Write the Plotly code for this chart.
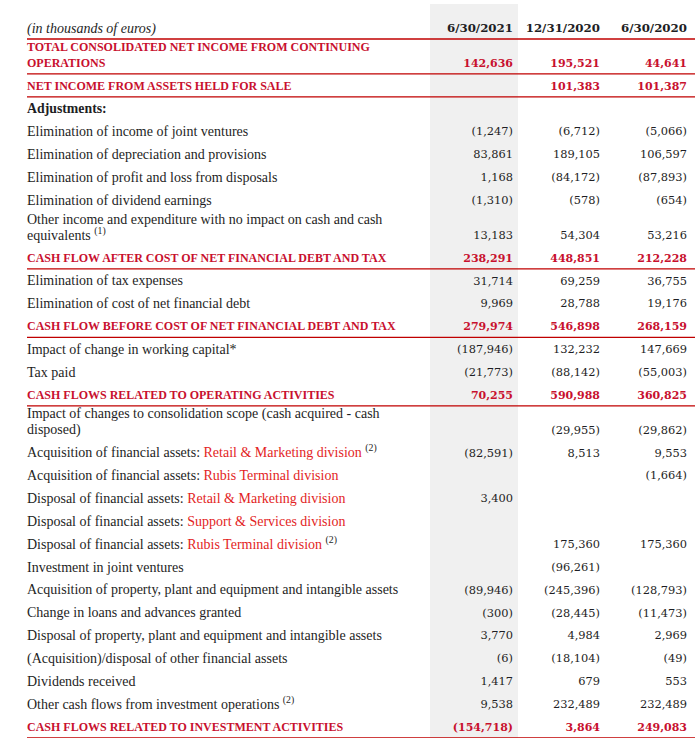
import plotly.graph_objects as go

RED = "#c8102e"
LIGHT_RED = "#e31e24"
INK = "#1e1e24"
LINE = "#c00000"


def div(name):
    return "<span style='color:%s'>%s</span>" % (LIGHT_RED, name)


unit_label = "(in thousands of euros)"
periods = ["6/30/2021", "12/31/2020", "6/30/2020"]

labels = [
    "TOTAL CONSOLIDATED NET INCOME FROM CONTINUING<br>OPERATIONS",
    "NET INCOME FROM ASSETS HELD FOR SALE",
    "Adjustments:",
    "Elimination of income of joint ventures",
    "Elimination of depreciation and provisions",
    "Elimination of profit and loss from disposals",
    "Elimination of dividend earnings",
    "Other income and expenditure with no impact on cash and cash<br>equivalents <sup>(1)</sup>",
    "CASH FLOW AFTER COST OF NET FINANCIAL DEBT AND TAX",
    "Elimination of tax expenses",
    "Elimination of cost of net financial debt",
    "CASH FLOW BEFORE COST OF NET FINANCIAL DEBT AND TAX",
    "Impact of change in working capital*",
    "Tax paid",
    "CASH FLOWS RELATED TO OPERATING ACTIVITIES",
    "Impact of changes to consolidation scope (cash acquired - cash<br>disposed)",
    "Acquisition of financial assets: " + div("Retail & Marketing division") + " <sup>(2)</sup>",
    "Acquisition of financial assets: " + div("Rubis Terminal division"),
    "Disposal of financial assets: " + div("Retail & Marketing division"),
    "Disposal of financial assets: " + div("Support & Services division"),
    "Disposal of financial assets: " + div("Rubis Terminal division") + " <sup>(2)</sup>",
    "Investment in joint ventures",
    "Acquisition of property, plant and equipment and intangible assets",
    "Change in loans and advances granted",
    "Disposal of property, plant and equipment and intangible assets",
    "(Acquisition)/disposal of other financial assets",
    "Dividends received",
    "Other cash flows from investment operations <sup>(2)</sup>",
    "CASH FLOWS RELATED TO INVESTMENT ACTIVITIES",
]

# total = red bold with rule below, head = black bold, item = normal
kinds = [
    "total", "total", "head", "item", "item", "item", "item", "item", "total",
    "item", "item", "total", "item", "item", "total", "item", "item", "item",
    "item", "item", "item", "item", "item", "item", "item", "item", "item",
    "item", "total",
]

jun_2021 = [142636, None, None, -1247, 83861, 1168, -1310, 13183, 238291,
            31714, 9969, 279974, -187946, -21773, 70255, None, -82591, None,
            3400, None, None, None, -89946, -300, 3770, -6, 1417, 9538, -154718]
dec_2020 = [195521, 101383, None, -6712, 189105, -84172, -578, 54304, 448851,
            69259, 28788, 546898, 132232, -88142, 590988, -29955, 8513, None,
            None, None, 175360, -96261, -245396, -28445, 4984, -18104, 679,
            232489, 3864]
jun_2020 = [44641, 101387, None, -5066, 106597, -87893, -654, 53216, 212228,
            36755, 19176, 268159, 147669, -55003, 360825, -29862, 9553, -1664,
            None, None, 175360, None, -128793, -11473, 2969, -49, 553, 232489,
            249083]


def fmt(v):
    if v < 0:
        return "({:,})".format(-v)
    return "{:,}".format(v)


# vertical layout (pixels): header line, row pitch, extra for wrapped rows
y_head = 29
pitch = 22.85
extra = 12.1
sub_line = 16
label_x = 27
col_x = [513, 600, 687]

y_last = []
y = y_head
for lab in labels:
    n = lab.count("<br>") + 1
    y += pitch + extra * (n - 1)
    y_last.append(y)

fig = go.Figure()

SERIF = "Liberation Serif"
NUM = "DejaVu Serif"


def add_text(xs, ys, texts, pos, color, family, size, weight="normal", style="normal"):
    fig.add_trace(go.Scatter(
        x=xs, y=ys, text=texts, mode="text", textposition=pos,
        textfont=dict(family=family, size=size, color=color, weight=weight, style=style),
        hoverinfo="skip", showlegend=False, cliponaxis=False,
    ))


# header
add_text([label_x], [y_head], [unit_label], "middle right", INK, SERIF, 14, style="italic")
add_text(col_x, [y_head] * 3, periods, "middle left", INK, NUM, 11.8, weight="bold")

styles = [
    ("total", RED, "bold", 12.0, 11.0),
    ("head", INK, "bold", 13.8, 11.0),
    ("item", INK, "normal", 14, 11.4),
]
for kind, color, weight, lab_size, num_size in styles:
    idx = [i for i, k in enumerate(kinds) if k == kind]
    lx, ly, lt = [], [], []
    for i in idx:
        parts = labels[i].split("<br>")
        for j, part in enumerate(parts):
            lx.append(label_x)
            ly.append(y_last[i] - sub_line * (len(parts) - 1 - j))
            lt.append(part)
    add_text(lx, ly, lt, "middle right", color, SERIF, lab_size, weight)
    for cx, series in zip(col_x, [jun_2021, dec_2020, jun_2020]):
        keep = [i for i in idx if series[i] is not None]
        add_text([cx] * len(keep), [y_last[i] for i in keep],
                 [fmt(series[i]) for i in keep], "middle left", color, NUM, num_size, weight)

# shaded current-period column
fig.add_shape(type="rect", x0=430, x1=518, y0=4, y1=738, fillcolor="#f0f0f0",
              line_width=0, layer="below")

# rules
rule_ys = [y_head] + [y_last[i] for i, k in enumerate(kinds) if k == "total"]
for ry in rule_ys:
    fig.add_shape(type="line", x0=label_x, x1=695, y0=ry + 10, y1=ry + 10,
                  line=dict(color=LINE, width=1.3))

fig.update_xaxes(range=[0, 695], visible=False, fixedrange=True)
fig.update_yaxes(range=[738, 0], visible=False, fixedrange=True)
fig.update_layout(
    width=695, height=738,
    margin={"r": 0, "t": 0, "l": 0, "b": 0},
    paper_bgcolor="white", plot_bgcolor="white",
)
fig.write_html("out.html", config={"displayModeBar": False},
               post_script="document.body.style.margin = '0';")
